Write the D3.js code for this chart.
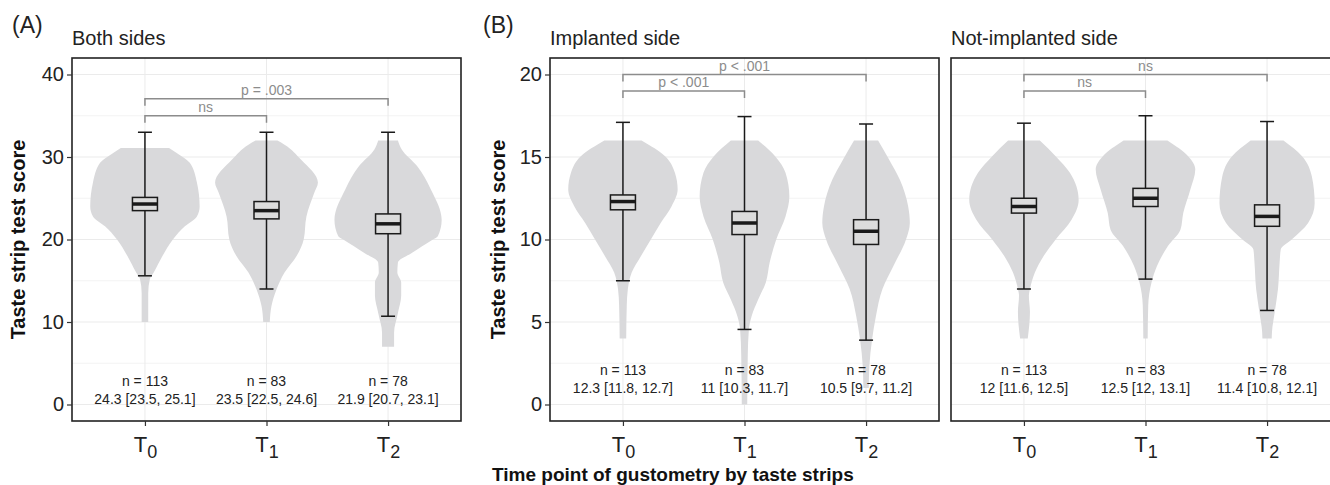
<!DOCTYPE html>
<meta charset="utf-8">
<style>

html, body {
  margin: 0;
  background: #fff;
}

svg {
  display: block;
  font-family: "Liberation Sans", Arial, Helvetica, sans-serif;
}

.grid line {
  stroke: #ebebeb;
  stroke-width: 1px;
}

.grid line.minor {
  stroke: #f3f3f3;
}

.violin {
  fill: #d9d9db;
  stroke: none;
}

.box rect {
  fill: #dcdcdc;
  stroke: #1a1a1a;
  stroke-width: 1.5px;
}

.box line {
  stroke: #1a1a1a;
  stroke-width: 1.5px;
}

.box line.median {
  stroke-width: 3.5px;
}

.sig path {
  fill: none;
  stroke: #8c8c8c;
  stroke-width: 1.5px;
}

.sig text {
  fill: #8c8c8c;
  font-size: 14px;
}

.note {
  fill: #222;
  font-size: 14px;
}

.axis path.domain {
  display: none;
}

.axis line {
  stroke: #333;
  stroke-width: 1.2px;
}

.axis text {
  fill: #222;
}

.border {
  fill: none;
  stroke: #222;
  stroke-width: 1.6px;
}

</style>
<svg id="chart"></svg>
<script src="https://cdn.jsdelivr.net/npm/d3@7"></script>
<script>

var width = 1330;
var height = 485;

// categories
var timePoints = ['T0', 'T1', 'T2'];
var timeSubs = ['0', '1', '2'];
var nCounts = [113, 83, 78];

// Both sides
var bothMedian = [24.3, 23.5, 21.9];
var bothLow = [23.5, 22.5, 20.7];
var bothHigh = [25.1, 24.6, 23.1];
var bothWhiskLow = [15.6, 14.0, 10.7];
var bothWhiskHigh = [33, 33, 33];
// violin profiles: [score, relative density], top to bottom
var bothViolins = [
  [[31.1, .44], [30.5, .58], [29.3, .82], [26.9, .95], [24.0, 1.0], [22.8, .95], [21.6, .73], [20.0, .51],
   [18.0, .32], [16.0, .16], [15.2, .09], [13.5, .06], [10.0, .06]],
  [[32.0, .2], [31.5, .33], [29.7, .63], [26.9, .94], [25.6, .87], [22.8, .73], [20.0, .68], [18.0, .55],
   [16.0, .33], [13.9, .18], [11.9, .09], [10.0, .06]],
  [[32.0, .18], [30.9, .25], [28.9, .53], [26.1, .78], [22.4, .98], [20.4, .91], [20.0, .82], [18.4, .44],
   [17.2, .18], [16.0, .17], [14.8, .24], [13.2, .24], [11.1, .18], [8.7, .11], [7.0, .11]]
];
var bothSig = [
  {from: 'T0', to: 'T1', label: 'ns'},
  {from: 'T0', to: 'T2', label: 'p = .003'}
];

// Implanted side
var implMedian = [12.3, 11, 10.5];
var implLow = [11.8, 10.3, 9.7];
var implHigh = [12.7, 11.7, 11.2];
var implWhiskLow = [7.5, 4.55, 3.9];
var implWhiskHigh = [17.1, 17.45, 17.0];
var implViolins = [
  [[16.0, .34], [15.05, .77], [14.04, .95], [13.03, 1.0], [12.02, .89], [11.0, .69], [10.0, .51], [9.0, .33],
   [8.0, .16], [7.0, .09], [6.0, .07], [4.0, .06]],
  [[16.0, .25], [15.05, .56], [14.04, .75], [12.6, .82], [11.4, .75], [10.0, .58], [8.6, .46], [7.4, .39],
   [6.36, .25], [5.35, .13], [4.55, .08], [3.0, .06], [0, .05]],
  [[16.0, .22], [14.85, .42], [13.6, .62], [12.0, .77], [11.0, .8], [10.0, .73], [8.4, .5], [7.0, .3],
   [5.35, .18], [3.94, .11], [2.3, .06], [1.0, .05]]
];
var implSig = [
  {from: 'T0', to: 'T1', label: 'p < .001'},
  {from: 'T0', to: 'T2', label: 'p < .001'}
];

// Not-implanted side
var notMedian = [12, 12.5, 11.4];
var notLow = [11.6, 12, 10.8];
var notHigh = [12.5, 13.1, 12.1];
var notWhiskLow = [7.0, 7.6, 5.7];
var notWhiskHigh = [17.05, 17.5, 17.15];
var notViolins = [
  [[16.0, .29], [15.05, .58], [14.04, .84], [12.4, 1.0], [11.2, .87], [10.0, .58], [9.0, .36], [8.0, .2],
   [7.0, .11], [6.6, .09], [5.6, .11], [4.0, .07]],
  [[16.0, .4], [15.05, .78], [14.24, .91], [13.03, .82], [11.6, .69], [10.6, .64], [9.6, .41], [8.4, .21],
   [7.4, .11], [6.0, .05], [4.0, .04]],
  [[16.0, .3], [15.05, .64], [13.8, .82], [12.2, .87], [11.0, .75], [10.0, .45], [9.4, .25], [8.6, .23],
   [7.0, .2], [5.6, .14], [4.4, .09], [4.0, .085]]
];
var notSig = [
  {from: 'T0', to: 'T1', label: 'ns'},
  {from: 'T0', to: 'T2', label: 'ns'}
];

var bothTicks = [0, 10, 20, 30, 40];
var sideTicks = [0, 5, 10, 15, 20];

var svg = d3.select('#chart')
  .attr('width', width)
  .attr('height', height);

var plotTop = 58;
var plotBottom = 421;

var panels = [
  {title: 'Both sides', left: 72, right: 461, domain: [-2, 42], ticks: bothTicks, minor: [5, 15, 25, 35],
   median: bothMedian, low: bothLow, high: bothHigh, wLow: bothWhiskLow, wHigh: bothWhiskHigh,
   violins: bothViolins, sig: bothSig, sigLevels: [35, 37.05], noteY: 2.2, showY: true, yTitleX: 18},
  {title: 'Implanted side', left: 550, right: 939, domain: [-1, 21], ticks: sideTicks, minor: [2.5, 7.5, 12.5, 17.5],
   median: implMedian, low: implLow, high: implHigh, wLow: implWhiskLow, wHigh: implWhiskHigh,
   violins: implViolins, sig: implSig, sigLevels: [19, 20], noteY: 1.78, showY: true, yTitleX: 498},
  {title: 'Not-implanted side', left: 951, right: 1340, domain: [-1, 21], ticks: sideTicks, minor: [2.5, 7.5, 12.5, 17.5],
   median: notMedian, low: notLow, high: notHigh, wLow: notWhiskLow, wHigh: notWhiskHigh,
   violins: notViolins, sig: notSig, sigLevels: [19, 20], noteY: 1.78, showY: false}
];

panels.forEach(drawPanel);

// panel tags
svg.append('text').attr('x', 12).attr('y', 33).attr('font-size', 23).attr('fill', '#222').text('(A)');
svg.append('text').attr('x', 483).attr('y', 33).attr('font-size', 23).attr('fill', '#222').text('(B)');

svg.append('text')
  .attr('x', 492)
  .attr('y', 481)
  .attr('font-size', 19)
  .attr('font-weight', 'bold')
  .attr('fill', '#111')
  .text('Time point of gustometry by taste strips');

function drawPanel (p) {
  var g = svg.append('g');

  var x = d3.scalePoint()
    .domain(timePoints)
    .range([p.left, p.right])
    .padding(0.6);

  var y = d3.scaleLinear()
    .domain(p.domain)
    .range([plotBottom, plotTop]);

  var w = d3.scaleLinear()
    .domain([0, 1])
    .range([0, x.step() * 0.45]);

  var grid = g.append('g').attr('class', 'grid');

  grid.selectAll('line.minor')
    .data(p.minor)
    .enter().append('line')
    .attr('class', 'minor')
    .attr('x1', p.left).attr('x2', p.right)
    .attr('y1', function (d) { return y(d); })
    .attr('y2', function (d) { return y(d); });

  grid.selectAll('line.major')
    .data(p.ticks)
    .enter().append('line')
    .attr('class', 'major')
    .attr('x1', p.left).attr('x2', p.right)
    .attr('y1', function (d) { return y(d); })
    .attr('y2', function (d) { return y(d); });

  grid.selectAll('line.vert')
    .data(timePoints)
    .enter().append('line')
    .attr('class', 'vert')
    .attr('x1', function (d) { return x(d); })
    .attr('x2', function (d) { return x(d); })
    .attr('y1', plotTop).attr('y2', plotBottom);

  // violins
  g.selectAll('path.violin')
    .data(p.violins)
    .enter().append('path')
    .attr('class', 'violin')
    .attr('d', function (d, i) {
      var cx = x(timePoints[i]);
      return d3.area()
        .curve(d3.curveMonotoneY)
        .y(function (v) { return y(v[0]); })
        .x0(function (v) { return cx - w(v[1]); })
        .x1(function (v) { return cx + w(v[1]); })(d);
    });

  // whiskers and boxes
  var boxHalf = 12.5;
  var capHalf = 7;

  var box = g.selectAll('g.box')
    .data(timePoints)
    .enter().append('g')
    .attr('class', 'box');

  box.append('line')
    .attr('x1', function (d) { return x(d); })
    .attr('x2', function (d) { return x(d); })
    .attr('y1', function (d, i) { return y(p.wHigh[i]); })
    .attr('y2', function (d, i) { return y(p.wLow[i]); });

  box.append('line')
    .attr('x1', function (d) { return x(d) - capHalf; })
    .attr('x2', function (d) { return x(d) + capHalf; })
    .attr('y1', function (d, i) { return y(p.wHigh[i]); })
    .attr('y2', function (d, i) { return y(p.wHigh[i]); });

  box.append('line')
    .attr('x1', function (d) { return x(d) - capHalf; })
    .attr('x2', function (d) { return x(d) + capHalf; })
    .attr('y1', function (d, i) { return y(p.wLow[i]); })
    .attr('y2', function (d, i) { return y(p.wLow[i]); });

  box.append('rect')
    .attr('x', function (d) { return x(d) - boxHalf; })
    .attr('width', boxHalf * 2)
    .attr('y', function (d, i) { return y(p.high[i]); })
    .attr('height', function (d, i) { return y(p.low[i]) - y(p.high[i]); });

  box.append('line')
    .attr('class', 'median')
    .attr('x1', function (d) { return x(d) - boxHalf; })
    .attr('x2', function (d) { return x(d) + boxHalf; })
    .attr('y1', function (d, i) { return y(p.median[i]); })
    .attr('y2', function (d, i) { return y(p.median[i]); });

  // n and median [CI] labels
  var note = g.selectAll('text.note')
    .data(timePoints)
    .enter().append('text')
    .attr('class', 'note')
    .attr('text-anchor', 'middle')
    .attr('x', function (d) { return x(d); })
    .attr('y', y(p.noteY));

  note.append('tspan')
    .attr('x', function (d) { return x(d); })
    .text(function (d, i) { return 'n = ' + nCounts[i]; });

  note.append('tspan')
    .attr('x', function (d) { return x(d); })
    .attr('dy', 18)
    .text(function (d, i) { return p.median[i] + ' [' + p.low[i] + ', ' + p.high[i] + ']'; });

  // significance brackets
  var tip = 7;
  var sig = g.selectAll('g.sig')
    .data(p.sig)
    .enter().append('g')
    .attr('class', 'sig');

  sig.append('path')
    .attr('d', function (d, i) {
      var yy = y(p.sigLevels[i]);
      return 'M' + x(d.from) + ',' + (yy + tip) + 'V' + yy + 'H' + x(d.to) + 'V' + (yy + tip);
    });

  sig.append('text')
    .attr('text-anchor', 'middle')
    .attr('x', function (d) { return (x(d.from) + x(d.to)) / 2; })
    .attr('y', function (d, i) { return y(p.sigLevels[i]) - 4; })
    .text(function (d) { return d.label; });

  g.append('rect')
    .attr('class', 'border')
    .attr('x', p.left)
    .attr('y', plotTop)
    .attr('width', p.right - p.left)
    .attr('height', plotBottom - plotTop);

  // x axis
  var xAxis = g.append('g')
    .attr('class', 'axis')
    .attr('transform', 'translate(0,' + plotBottom + ')')
    .call(d3.axisBottom(x).tickSize(5).tickFormat(''));

  xAxis.selectAll('.tick text').remove();
  xAxis.selectAll('.tick').each(function (d, i) {
    var t = d3.select(this).append('text')
      .attr('y', 31)
      .attr('text-anchor', 'middle')
      .attr('fill', '#222');
    t.append('tspan').attr('font-size', 22).text('T');
    t.append('tspan').attr('font-size', 18).attr('dy', 6).text(timeSubs[i]);
  });

  if (p.showY) {
    g.append('g')
      .attr('class', 'axis')
      .attr('transform', 'translate(' + p.left + ',0)')
      .call(d3.axisLeft(y).tickValues(p.ticks).tickSize(5).tickPadding(3))
      .selectAll('text')
      .attr('font-size', 20);

    g.append('text')
      .attr('transform', 'translate(' + p.yTitleX + ',' + ((plotTop + plotBottom) / 2) + ') rotate(-90)')
      .attr('text-anchor', 'middle')
      .attr('dy', '0.35em')
      .attr('font-size', 20)
      .attr('font-weight', 'bold')
      .attr('fill', '#111')
      .text('Taste strip test score');
  }

  g.append('text')
    .attr('x', p.left)
    .attr('y', 45)
    .attr('font-size', 20)
    .attr('fill', '#222')
    .text(p.title);
}

</script>
